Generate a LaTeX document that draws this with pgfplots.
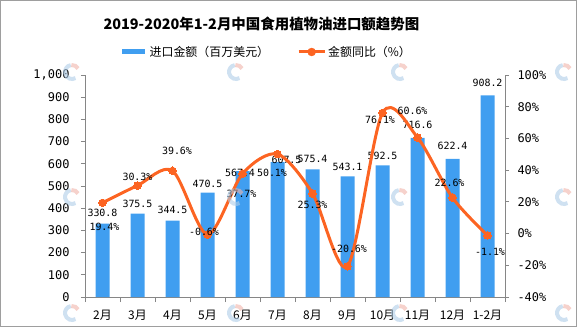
\documentclass[border=0pt]{standalone}
\usepackage{fontspec}
\usepackage{pgfplots}
\usepackage{pgfplotstable}
\pgfplotsset{compat=1.18}
\setmainfont{Noto Sans CJK SC}
\newfontfamily\cjk{Noto Sans CJK SC}
\newfontfamily\num{DejaVu Sans Mono}
\definecolor{barblue}{RGB}{64,158,240}
\definecolor{lineor}{RGB}{252,100,34}
\definecolor{axgray}{RGB}{134,134,134}
\definecolor{wmblue}{RGB}{175,205,232}
\definecolor{wmred}{RGB}{240,180,170}

\pgfplotstableread{
x val bdx bdy pct pdx pdy
0 330.8 0 11 19.4 2 -24
1 375.5 0 10 30.3 0 9
2 344.5 0 11 39.6 4.5 20
3 470.5 0 8.5 -0.6 -3.5 3
4 567.4 -2.5 -2 37.7 -1 -20
5 607.5 9 2.5 50.1 -5.5 -18.5
6 575.4 0 10 25.3 0 -11.6
7 543.1 0 10 -20.6 1.5 17
8 592.5 0 10 76.1 -2.5 -7
9 716.6 0 13 60.6 -5 26.7
10 622.4 0 13 22.6 -3 15
11 908.2 0 12.7 -1.1 2.5 -16.4
}\datatable

\newcommand{\wmark}[2]{%
  \begin{scope}[shift={(#1bp-85bp,297bp-#2bp)}]
    \draw[wmblue, line width=4bp] (0,0) ++(100:7bp) arc (100:300:7bp);
    \draw[wmred, line width=4bp] (0,0) ++(30:7bp) arc (30:95:7bp);
  \end{scope}}

\begin{document}
\begin{tikzpicture}
\begin{axis}[
  name=ax1,
  scale only axis, width=420bp, height=222bp,
  xmin=-0.5, xmax=11.5, ymin=0, ymax=1000,
  axis y line*=left, axis x line*=bottom,
  axis line style={axgray, line width=0.8bp},
  tick align=outside,
  major tick length=4bp, minor tick length=5bp,
  xtick={0,...,11},
  xticklabels={2月,3月,4月,5月,6月,7月,8月,9月,10月,11月,12月,1-2月},
  major x tick style={draw=none},
  minor xtick={-0.5,0.5,...,11.5},
  minor x tick style={axgray, line width=0.8bp},
  ytick={0,100,...,1000},
  y tick style={axgray, line width=0.8bp},
  xticklabel style={font=\cjk\fontsize{12}{12}\selectfont, yshift=-6bp},
  yticklabel style={font=\num\fontsize{12}{12}\selectfont, xshift=-8bp},
  /pgf/number format/assume math mode=true,
  /pgf/number format/1000 sep={,},
  title={\cjk\bfseries 2019-2020年1-2月中国食用植物油进口额趋势图},
  title style={at={(0.42,1.203)}, anchor=center, font=\fontsize{14.5}{14.5}\selectfont},
  clip=false,
]
\coordinate (O) at (rel axis cs:0,0);
\addplot[ybar, bar width=14bp, fill=barblue, draw=none,
  visualization depends on={\thisrow{bdx}\as\bdx},
  visualization depends on={\thisrow{bdy}\as\bdy},
  nodes near coords={\pgfmathprintnumber[fixed,fixed zerofill,precision=1,assume math mode=true]{\pgfplotspointmeta}},
  every node near coord/.append style={anchor=center, xshift=\bdx bp, yshift=\bdy bp, font=\num\fontsize{10}{10}\selectfont, text=black, inner sep=0pt},
] table[x=x, y=val] {\datatable};
\end{axis}
\begin{axis}[
  scale only axis, width=420bp, height=222bp,
  xmin=-0.5, xmax=11.5, ymin=-40, ymax=100,
  axis y line*=right, axis x line=none,
  axis line style={axgray, line width=0.8bp},
  tick align=outside, major tick length=4bp,
  ytick={-40,-20,...,100},
  y tick style={axgray, line width=0.8bp},
  yticklabel={\pgfmathprintnumber[assume math mode=true]{\tick}\%},
  yticklabel style={font=\num\fontsize{12}{12}\selectfont, xshift=5bp},
  legend style={at={(0.082,1.1036)}, anchor=west, draw=none, fill=none, inner sep=0pt,
    font=\cjk\fontsize{12}{12}\selectfont,
    /tikz/every even column/.append style={column sep=26bp}},
  legend columns=2,
  clip=false,
]
\addlegendimage{legend image code/.code={\draw[barblue, line width=5bp] (0bp,0bp) -- (23bp,0bp);}}
\addlegendentry{进口金额（百万美元）}
\addlegendimage{legend image code/.code={\draw[lineor, line width=3bp] (0bp,0bp) -- (26bp,0bp); \fill[lineor] (13bp,0bp) circle (4bp);}}
\addlegendentry{金额同比（\%）}
\addplot[forget plot, lineor, line width=3bp, smooth, tension=0.5,
  mark=*, mark size=3.8bp, mark options={fill=lineor, draw=lineor, line width=0pt},
  visualization depends on={\thisrow{pdx}\as\pdx},
  visualization depends on={\thisrow{pdy}\as\pdy},
  nodes near coords={\pgfmathprintnumber[fixed,fixed zerofill,precision=1,assume math mode=true]{\pgfplotspointmeta}\%},
  every node near coord/.append style={anchor=center, xshift=\pdx bp, yshift=\pdy bp, font=\num\fontsize{10}{10}\selectfont, text=black, inner sep=0pt},
] table[x=x, y=pct] {\datatable};
\end{axis}
\begin{scope}[shift={(O)}]
  \begin{scope}
    \clip (-85bp,-30bp) rectangle (492bp,297bp);
    \begin{scope}[opacity=0.6]
      \foreach \lx in {72,236,400,564} {
        \foreach \ly in {72,197,313} {
          \wmark{\lx}{\ly}
        }
      }
    \end{scope}
  \end{scope}
  \draw[axgray!80, line width=1bp] (-84.5bp,-29.5bp) rectangle (491.5bp,296.5bp);
\end{scope}
\pgfresetboundingbox
\path[use as bounding box] ([shift={(-85bp,-30bp)}]O) rectangle ([shift={(492bp,297bp)}]O);
\end{tikzpicture}
\end{document}
